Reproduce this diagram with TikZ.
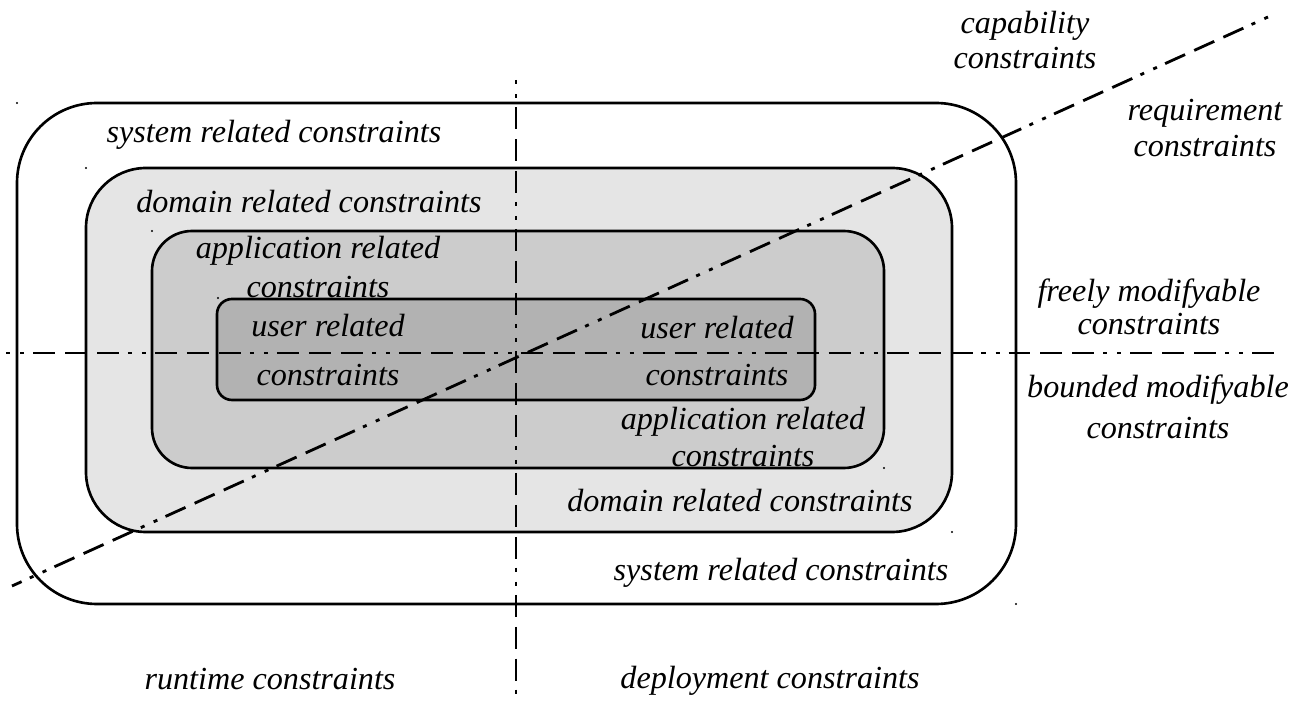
\documentclass[tikz,border=0pt]{standalone}
\usepackage{fontspec}
\setmainfont{Liberation Serif}
\begin{document}
\begin{tikzpicture}[x=0.02cm,y=-0.02cm,
  boxline/.style={line width=1.5pt},
  ddline/.style={line width=1.6pt,
    dash pattern=on 2.3pt off 5.7pt on 2.3pt off 5.1pt on 12.5pt off 5.7pt on 12.5pt off 5.7pt on 12.5pt off 5.1pt},
  lbl/.style={font=\fontsize{18.3}{21}\selectfont\itshape, align=center, inner sep=0pt},
]
\useasboundingbox (0,0) rectangle (1303,702);
\definecolor{domfill}{gray}{0.90}
\definecolor{appfill}{gray}{0.80}
\definecolor{usrfill}{gray}{0.70}
% nested boxes
\draw[boxline, fill=white, rounded corners=1.6cm] (17,103) rectangle (1016,604);
\draw[boxline, fill=domfill, rounded corners=1.2cm] (86,168) rectangle (952,532);
\draw[boxline, fill=appfill, rounded corners=0.8cm] (152,231) rectangle (884,468);
\draw[boxline, fill=usrfill, rounded corners=0.3cm] (217,299) rectangle (815,400);
% corner specks
\foreach \p in {(17,103),(1016,604),(86,168),(952,532),(152,231),(884,468),(218,298)}
  \fill \p circle (0.6pt);
% axes
\coordinate (vt) at (516,80);
\coordinate (vb) at (516,696);
\coordinate (hl) at (6,353);
\coordinate (hr) at (1274,353);
\coordinate (dl) at (1268,17);
\coordinate (dr) at (12,586);
\draw[ddline] (vt) -- (vb);
\draw[ddline] (hl) -- (hr);
\draw[ddline] (dl) -- (dr);
% labels
\node[lbl] (cap) at (1025,40) {capability\\[-1pt]constraints};
\node[lbl] (req) at (1205,128) {requirement\\constraints};
\node[lbl] (sys1) at (274,135) {system related constraints};
\node[lbl] (dom1) at (309,202) {domain related constraints};
\node[lbl] (app1) at (318,267) {application related\\[1pt]constraints};
\node[lbl] (usr1) at (328,350) {user related\\[7pt]constraints};
\node[lbl] (usr2) at (717,351) {user related\\[6pt]constraints};
\node[lbl] (app2) at (743,437) {application related\\constraints};
\node[lbl] (dom2) at (740,501) {domain related constraints};
\node[lbl] (sys2) at (781,573) {system related constraints};
\node[lbl] (free) at (1149,307) {freely modifyable\\[-2pt]constraints};
\node[lbl] (bound) at (1158,407) {bounded modifyable\\[2pt]constraints};
\node[lbl] (run) at (270,679) {runtime constraints};
\node[lbl] (dep) at (770,681) {deployment constraints};
\end{tikzpicture}
\end{document}
